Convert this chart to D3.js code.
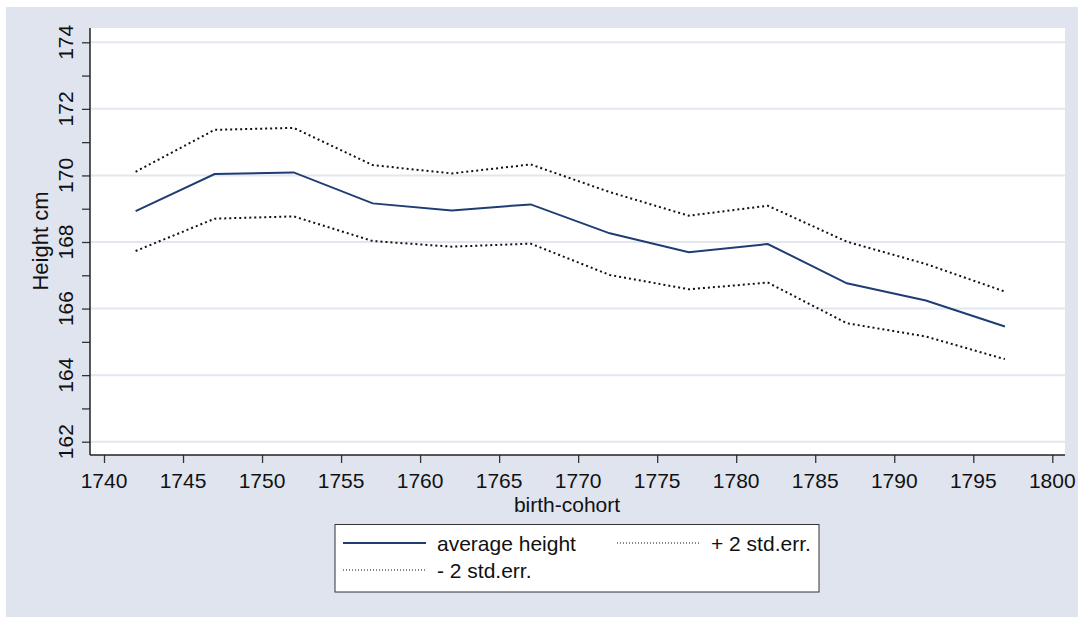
<!DOCTYPE html>
<html>
<head>
<meta charset="utf-8">
<script src="https://cdn.jsdelivr.net/npm/d3@7"></script>
<style>
  body { margin: 0; background: #fff; }
  text { font-family: "Liberation Sans", Arial, sans-serif; fill: #111; }
</style>
</head>
<body>
<svg id="chart" width="1078" height="617"></svg>
<script>
// birth cohorts (mid-points of 5-year groups)
const cohorts = [1742, 1747, 1752, 1757, 1762, 1767, 1772, 1777, 1782, 1787, 1792, 1797];
const avgHeight = [168.93, 170.04, 170.09, 169.16, 168.95, 169.13, 168.26, 167.69, 167.94, 166.76, 166.24, 165.46];
const upperSE = [170.11, 171.37, 171.43, 170.31, 170.06, 170.33, 169.50, 168.79, 169.09, 168.01, 167.34, 166.51];
const lowerSE = [167.73, 168.70, 168.77, 168.03, 167.86, 167.95, 167.01, 166.58, 166.78, 165.56, 165.16, 164.48];

const xTicks = [1740, 1745, 1750, 1755, 1760, 1765, 1770, 1775, 1780, 1785, 1790, 1795, 1800];
const yTicks = [162, 164, 166, 168, 170, 172, 174];
const yMinor = [163, 165, 167, 169, 171, 173];

const legendItems = [
  { label: "average height", dashed: false },
  { label: "+ 2 std.err.", dashed: true },
  { label: "- 2 std.err.", dashed: true }
];

const svg = d3.select('#chart');
const plot = { left: 90, right: 1065, top: 28, bottom: 455 };
const fontSize = 21;

const x = d3.scaleLinear().domain([1740, 1800]).range([104, 1052.3]);
const y = d3.scaleLinear().domain([162, 174]).range([441.7, 42.3]);

// graph region background
svg.append('rect')
  .attr('x', 6).attr('y', 7)
  .attr('width', 1072).attr('height', 610)
  .attr('fill', '#dfe4ef');

// plot region
svg.append('rect')
  .attr('x', plot.left).attr('y', plot.top)
  .attr('width', plot.right - plot.left).attr('height', plot.bottom - plot.top)
  .attr('fill', '#fff');

// gridlines
svg.selectAll('.grid')
  .data(yTicks)
  .enter()
  .append('line')
  .attr('x1', plot.left).attr('x2', plot.right)
  .attr('y1', d => y(d)).attr('y2', d => y(d))
  .attr('stroke', '#e1e6f0')
  .attr('stroke-width', 2);

// y axis
const yAxis = svg.append('g')
  .attr('transform', `translate(${plot.left},0)`)
  .call(d3.axisLeft(y).tickValues(yTicks.concat(yMinor)).tickSize(8).tickFormat(''));
yAxis.select('.domain').remove();
yAxis.selectAll('.tick line').attr('stroke', '#333').attr('stroke-width', 1.3);

svg.selectAll('.ylab')
  .data(yTicks)
  .enter()
  .append('text')
  .attr('transform', d => `translate(72.5,${y(d)}) rotate(-90)`)
  .attr('text-anchor', 'middle')
  .attr('font-size', fontSize)
  .text(d => d);

// x axis
const xAxis = svg.append('g')
  .attr('transform', `translate(0,${plot.bottom})`)
  .call(d3.axisBottom(x).tickValues(xTicks).tickSize(8).tickFormat(''));
xAxis.select('.domain').remove();
xAxis.selectAll('.tick line').attr('stroke', '#333').attr('stroke-width', 1.3);

svg.selectAll('.xlab')
  .data(xTicks)
  .enter()
  .append('text')
  .attr('x', d => x(d))
  .attr('y', 487.5)
  .attr('text-anchor', 'middle')
  .attr('font-size', fontSize)
  .text(d => d);

// axis lines
svg.append('line')
  .attr('x1', plot.left).attr('x2', plot.left)
  .attr('y1', plot.top).attr('y2', plot.bottom)
  .attr('stroke', '#222').attr('stroke-width', 1.5);
svg.append('line')
  .attr('x1', plot.left).attr('x2', plot.right)
  .attr('y1', plot.bottom).attr('y2', plot.bottom)
  .attr('stroke', '#222').attr('stroke-width', 1.5);

// axis titles
svg.append('text')
  .attr('x', 567).attr('y', 511.5)
  .attr('text-anchor', 'middle')
  .attr('font-size', 21)
  .text('birth-cohort');
svg.append('text')
  .attr('transform', 'translate(48,241) rotate(-90)')
  .attr('text-anchor', 'middle')
  .attr('font-size', 22)
  .text('Height cm');

// series lines
const line = d3.line()
  .x((d, i) => x(cohorts[i]))
  .y(d => y(d));

svg.append('path')
  .datum(upperSE)
  .attr('d', line)
  .attr('fill', 'none')
  .attr('stroke', '#111')
  .attr('stroke-width', 2)
  .attr('stroke-dasharray', '2,3');
svg.append('path')
  .datum(lowerSE)
  .attr('d', line)
  .attr('fill', 'none')
  .attr('stroke', '#111')
  .attr('stroke-width', 2)
  .attr('stroke-dasharray', '2,3');
svg.append('path')
  .datum(avgHeight)
  .attr('d', line)
  .attr('fill', 'none')
  .attr('stroke', '#1f3d73')
  .attr('stroke-width', 2);

// legend
const legend = svg.append('g');
legend.append('rect')
  .attr('x', 335).attr('y', 524.5)
  .attr('width', 484).attr('height', 67.5)
  .attr('fill', '#fff')
  .attr('stroke', '#333')
  .attr('stroke-width', 1);

const legendPos = [
  { x: 343, y: 543 },
  { x: 617, y: 543 },
  { x: 343, y: 570 }
];

legendItems.forEach((item, i) => {
  const p = legendPos[i];
  legend.append('line')
    .attr('x1', p.x).attr('x2', p.x + 83)
    .attr('y1', p.y).attr('y2', p.y)
    .attr('stroke', item.dashed ? '#111' : '#1f3d73')
    .attr('stroke-width', item.dashed ? 1.2 : 2)
    .attr('stroke-dasharray', item.dashed ? '1,2' : null);
  legend.append('text')
    .attr('x', p.x + 94)
    .attr('y', p.y + 8)
    .attr('font-size', fontSize)
    .text(item.label);
});
</script>
</body>
</html>
